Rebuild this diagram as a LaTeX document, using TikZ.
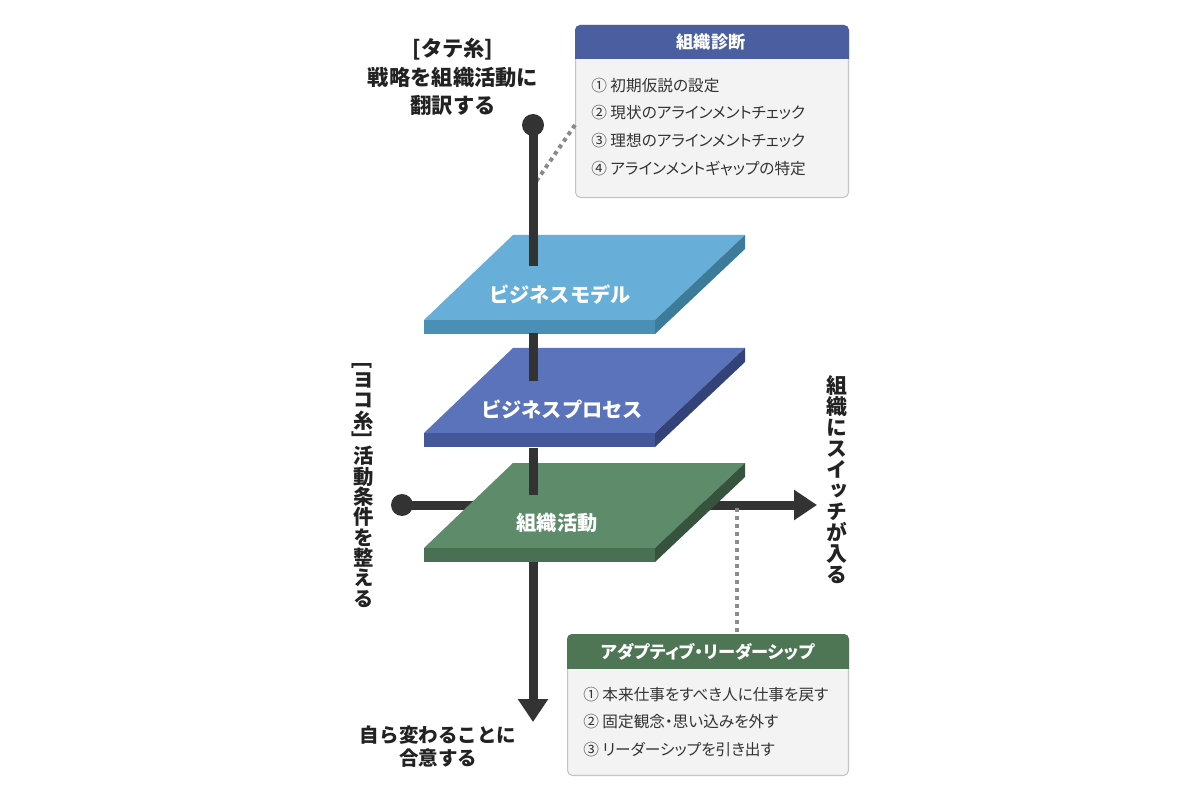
\documentclass[tikz,border=0pt]{standalone}
\usepackage{fontspec}
\setmainfont{Noto Sans CJK JP}
\newfontfamily\paltfont{Noto Sans CJK JP}[RawFeature=+palt]
\newfontfamily\vertfont{Noto Sans CJK JP}[RawFeature=+vert]
\usepackage{graphicx}
\usetikzlibrary{arrows.meta}
\definecolor{poleC}{HTML}{333333}
\definecolor{dotC}{HTML}{8A8A8A}
\definecolor{txtC}{HTML}{222222}
\definecolor{itemC}{HTML}{333333}
\definecolor{panelF}{HTML}{F3F3F3}
\definecolor{panelD}{HTML}{C4C4C4}
\definecolor{hdrBlue}{HTML}{4A5EA0}
\definecolor{hdrGreen}{HTML}{4E7554}
\definecolor{aTop}{HTML}{67AED9}
\definecolor{aFront}{HTML}{4A8FB6}
\definecolor{aSide}{HTML}{3D7B9B}
\definecolor{bTop}{HTML}{5A73BA}
\definecolor{bFront}{HTML}{43579A}
\definecolor{bSide}{HTML}{33437A}
\definecolor{cTop}{HTML}{5E8B69}
\definecolor{cFront}{HTML}{4A7054}
\definecolor{cSide}{HTML}{36543D}
\newcommand\drawlayer[4]{%
  \fill[#2] (513,#1) -- (745,#1) -- (655,{#1+85}) -- (424,{#1+85}) -- cycle;
  \fill[#3] (424,{#1+85}) -- (655,{#1+85}) -- (655,{#1+99}) -- (424,{#1+99}) -- cycle;
  \fill[#4] (655,{#1+85}) -- (745,#1) -- (745,{#1+14}) -- (655,{#1+99}) -- cycle;
}
% one upright character in a fixed 1em cell, for vertical setting
\newcommand\vch[1]{\rotatebox{90}{\makebox[1em]{\rule[-0.12em]{0pt}{1em}#1}}}
\newcommand\vbr[1]{\raisebox{0.12em}{#1}}
\begin{document}
\begin{tikzpicture}[x=0.02cm,y=-0.02cm,
  polestyle/.style={line width=0.18cm, draw=poleC},
  poletip/.style={-{Triangle[length=0.46cm,width=0.58cm]}},
  dotline/.style={draw=dotC, line width=0.08cm, dash pattern=on 0.08cm off 0.08cm},
  title/.style={text=txtC, font=\fontsize{12.1}{16.4}\selectfont\bfseries, align=center, inner sep=0},
  title2/.style={text=txtC, font=\fontsize{11.1}{13}\selectfont\bfseries, align=center, inner sep=0},
  vlab/.style={text=txtC, font=\vertfont\fontsize{11.6}{14}\selectfont\bfseries, inner sep=0},
  vlab2/.style={text=txtC, font=\vertfont\fontsize{11.9}{14}\selectfont\bfseries, inner sep=0},
  ltext/.style={text=white, font=\fontsize{11.5}{14}\selectfont\bfseries, inner sep=0},
  panel/.style={draw=panelD, fill=panelF, rounded corners=0.1cm, line width=0.6pt, inner sep=0},
  hdr/.style={text=white, font=\paltfont\fontsize{9.8}{12}\selectfont\bfseries, inner sep=0},
  items/.style={text=itemC, font=\paltfont\fontsize{8.9}{15.9}\selectfont, align=left, inner sep=0},
]
\useasboundingbox (0,0) rectangle (1200,800);
\fill[white] (0,0) rectangle (1200,800);

% coordinates
\coordinate (vtop) at (533,125);
\coordinate (v1a) at (533,266);
\coordinate (v2a) at (533,333);
\coordinate (v2b) at (533,381);
\coordinate (v3a) at (533,448);
\coordinate (v3b) at (533,495);
\coordinate (v4a) at (533,562);
\coordinate (vend) at (533,722);
\coordinate (hl) at (402,505);
\coordinate (hend) at (817,505);
\coordinate (d1a) at (575,125);
\coordinate (d1b) at (533,186);
\coordinate (d2a) at (737,508);

% horizontal thread (behind the layers)
\fill[poleC] (hl) circle (0.22cm);
\draw[polestyle, poletip] (hl) -- (hend);

% layers
\drawlayer{235}{aTop}{aFront}{aSide}
\drawlayer{348}{bTop}{bFront}{bSide}
\drawlayer{463}{cTop}{cFront}{cSide}

% panels
\node[panel, minimum width=5.46cm, minimum height=3.44cm, anchor=north west] (diag) at (575,25) {};
\begin{scope}
  \clip (570,20) rectangle (853,59);
  \fill[hdrBlue, rounded corners=0.1cm] (diag.north west) rectangle (diag.south east);
\end{scope}
\node[hdr] (diaghd) at (711,42) {組織診断};
\node[items, anchor=west] (diagit) at (591,127) {① 初期仮説の設定\\② 現状のアラインメントチェック\\③ 理想のアラインメントチェック\\④ アラインメントギャップの特定};

\node[panel, minimum width=5.62cm, minimum height=2.82cm, anchor=north west] (adapt) at (567,634) {};
\begin{scope}
  \clip (560,628) rectangle (855,668);
  \fill[hdrGreen, rounded corners=0.1cm] (adapt.north west) rectangle (adapt.south east);
\end{scope}
\node[hdr] (adapthd) at (708,652) {アダプティブ・リーダーシップ};
\node[items, anchor=west] (adaptit) at (583,722) {① 本来仕事をすべき人に仕事を戻す\\② 固定観念・思い込みを外す\\③ リーダーシップを引き出す};

% dotted leaders
\draw[dotline] (d1a) -- (d1b);
\draw[dotline] (d2a) -- (d2a |- adapt.north);

% vertical thread (pierces the layers)
\fill[poleC] (vtop) circle (0.22cm);
\draw[polestyle] (vtop) -- (v1a);
\draw[polestyle] (v2a) -- (v2b);
\draw[polestyle] (v3a) -- (v3b);
\draw[polestyle, poletip] (v4a) -- (vend);

% layer labels
\node[ltext] (lbm) at (560,295) {ビジネスモデル};
\node[ltext] (lbp) at (562,409) {ビジネスプロセス};
\node[ltext] (lso) at (557,523) {組織活動};

% thread labels
\node[title] (tate) at (453,77) {[タテ糸]\\戦略を組織活動に\\翻訳する};
\node[title2] (jiko) at (438,747) {自ら変わることに\\合意する};
\node[vlab] (yoko) at (363,485) {\rotatebox{-90}{\vbr{[}\vch{ヨ}\vch{コ}\vch{糸}\vbr{]}\hspace{0.35em}\vch{活}\vch{動}\vch{条}\vch{件}\vch{を}\vch{整}\vch{え}\vch{る}}};
\node[vlab2] (switch) at (837,480) {\rotatebox{-90}{\vch{組}\vch{織}\vch{に}\vch{ス}\vch{イ}\vch{ッ}\vch{チ}\vch{が}\vch{入}\vch{る}}};
\end{tikzpicture}
\end{document}
